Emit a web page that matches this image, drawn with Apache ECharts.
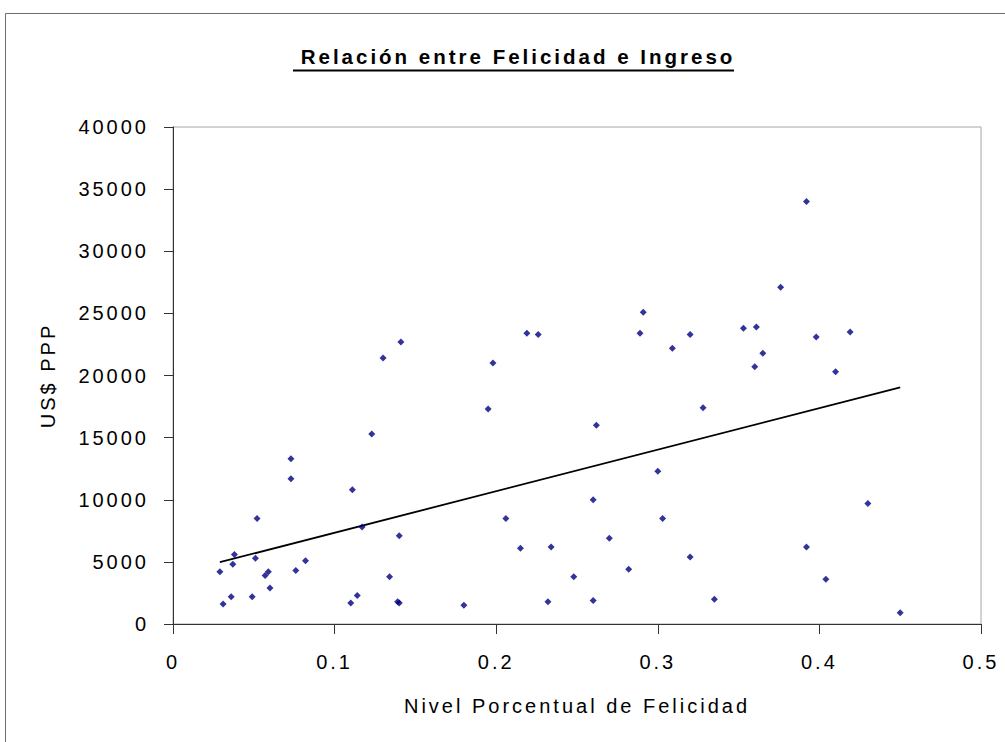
<!DOCTYPE html>
<html>
<head>
<meta charset="utf-8">
<script src="https://cdn.jsdelivr.net/npm/echarts@6/dist/echarts.min.js"></script>
<style>
html,body{margin:0;padding:0;background:#fff;}
#c{width:1005px;height:742px;}
#c svg text{letter-spacing:3px;}
</style>
</head>
<body>
<div id="c"></div>
<script>
// Nivel Porcentual de Felicidad (x) and US$ PPP (y)
const felicidad = [
  0.029, 0.031, 0.036, 0.037, 0.038, 0.049, 0.051, 0.052, 0.057, 0.059,
  0.060, 0.073, 0.073, 0.076, 0.082, 0.110, 0.111, 0.114, 0.117, 0.123,
  0.130, 0.134, 0.139, 0.140, 0.140, 0.141, 0.180, 0.195, 0.198, 0.206,
  0.215, 0.219, 0.226, 0.232, 0.234, 0.248, 0.260, 0.260, 0.262, 0.270,
  0.282, 0.289, 0.291, 0.300, 0.303, 0.309, 0.320, 0.320, 0.328, 0.335,
  0.353, 0.360, 0.361, 0.365, 0.376, 0.392, 0.392, 0.398, 0.404, 0.410,
  0.419, 0.430, 0.450
];
const ingreso = [
  4200, 1600, 2200, 4800, 5600, 2200, 5300, 8500, 3900, 4200,
  2900, 13300, 11700, 4300, 5100, 1700, 10800, 2300, 7800, 15300,
  21400, 3800, 1800, 1700, 7100, 22700, 1500, 17300, 21000, 8500,
  6100, 23400, 23300, 1800, 6200, 3800, 10000, 1900, 16000, 6900,
  4400, 23400, 25100, 12300, 8500, 22200, 23300, 5400, 17400, 2000,
  23800, 20700, 23900, 21800, 27100, 34000, 6200, 23100, 3600, 20300,
  23500, 9700, 900
];
const xTicks = [0, 0.1, 0.2, 0.3, 0.4, 0.5];
const yTicks = [0, 5000, 10000, 15000, 20000, 25000, 30000, 35000, 40000];
const titulo = 'Relación entre Felicidad e Ingreso';
const nombreX = 'Nivel Porcentual de Felicidad';
const nombreY = 'US$ PPP';

// linear (least squares) trend line over the data range
const n = felicidad.length;
let sx = 0, sy = 0, sxx = 0, sxy = 0;
for (let i = 0; i < n; i++) {
  sx += felicidad[i]; sy += ingreso[i];
  sxx += felicidad[i] * felicidad[i]; sxy += felicidad[i] * ingreso[i];
}
const slope = (n * sxy - sx * sy) / (n * sxx - sx * sx);
const inter = (sy - slope * sx) / n;
const xmin = Math.min(...felicidad), xmax = Math.max(...felicidad);
const trend = [[xmin, inter + slope * xmin], [xmax, inter + slope * xmax]];

const points = felicidad.map((x, i) => [x, ingreso[i]]);
const font = '"Liberation Sans", Arial, sans-serif';

const chart = echarts.init(document.getElementById('c'), null, {renderer: 'svg'});
chart.setOption({
  animation: false,
  backgroundColor: '#ffffff',
  title: {
    text: titulo,
    left: 513, top: 41, textAlign: 'center',
    textStyle: {fontFamily: font, fontWeight: 'bold', fontSize: 20.5, color: '#000'}
  },
  graphic: [
    {type: 'rect', shape: {x: 5.5, y: 13.5, width: 1100, height: 1000}, style: {fill: 'none', stroke: '#6e6e6e', lineWidth: 1}, silent: true},
    {type: 'rect', shape: {x: 293, y: 69.5, width: 441, height: 2}, style: {fill: '#000'}, silent: true}
  ],
  grid: {left: 173, right: 24, top: 127, bottom: 118, show: true, borderColor: '#a6a6a6', borderWidth: 1, containLabel: false},
  xAxis: {
    type: 'value', min: 0, max: 0.5, interval: 0.1,
    name: nombreX, nameLocation: 'middle', nameGap: 72,
    nameTextStyle: {fontFamily: font, fontSize: 20, color: '#000'},
    axisLine: {show: true, onZero: false, lineStyle: {color: '#333', width: 1}},
    axisTick: {show: true, inside: false, length: 10, lineStyle: {color: '#333'}},
    axisLabel: {margin: 28, fontFamily: font, fontSize: 20, color: '#000',
      formatter: v => { const t = xTicks.find(k => Math.abs(k - v) < 1e-9); return t === undefined ? '' : String(t); }},
    splitLine: {show: false}
  },
  yAxis: {
    type: 'value', min: 0, max: 40000, interval: 5000,
    name: nombreY, nameLocation: 'middle', nameGap: 115, nameRotate: 90,
    nameTextStyle: {fontFamily: font, fontSize: 20, color: '#000'},
    axisLine: {show: true, onZero: false, lineStyle: {color: '#333', width: 1}},
    axisTick: {show: true, inside: false, length: 9, lineStyle: {color: '#333'}},
    axisLabel: {margin: 24, fontFamily: font, fontSize: 20, color: '#000',
      formatter: v => { const t = yTicks.find(k => k === v); return t === undefined ? '' : String(t); }},
    splitLine: {show: false}
  },
  series: [
    {
      type: 'scatter', data: points, symbol: 'diamond', symbolSize: 7,
      itemStyle: {color: '#000080'}, z: 3
    },
    {
      type: 'line', data: trend, showSymbol: false, symbol: 'none',
      lineStyle: {color: '#000', width: 1.8}, z: 2, silent: true
    }
  ]
});
</script>
</body>
</html>
